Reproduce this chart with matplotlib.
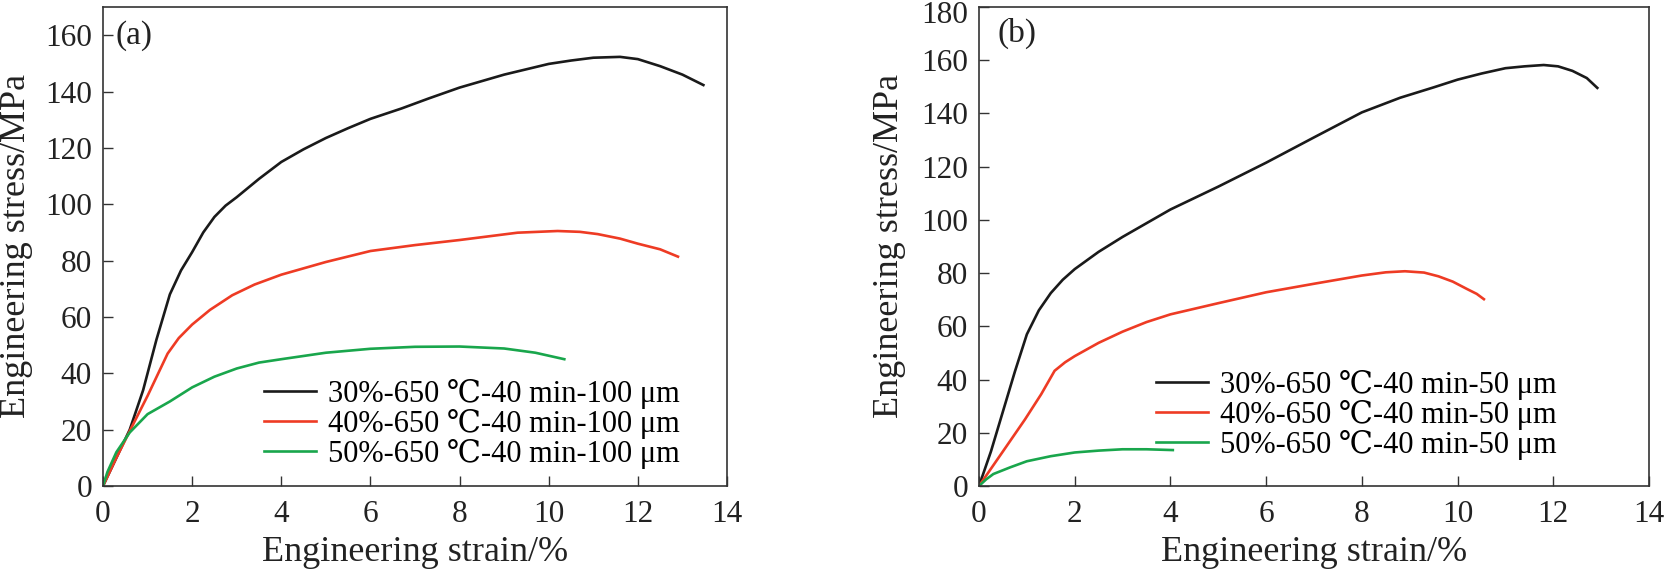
import matplotlib
matplotlib.use("Agg")
import matplotlib.pyplot as plt
from matplotlib.transforms import ScaledTranslation

# ── data ──────────────────────────────────────────────────────────────────────
# panel (a): 100 um
a30_x = [0, 0.3, 0.6, 0.9, 1.2, 1.5, 1.75, 2.0, 2.25, 2.5, 2.75, 3.0, 3.5, 4.0,
         4.5, 5.0, 5.5, 6.0, 6.7, 7.3, 8.0, 9.0, 10.0, 10.5, 11.0, 11.6, 12.0,
         12.5, 13.0, 13.47]
a30_y = [0, 10, 20, 34, 52, 68, 76.5, 83, 90, 95.5, 99.5, 102.5, 109, 115,
         119.5, 123.5, 127, 130.3, 134, 137.5, 141.4, 146, 149.8, 151, 152,
         152.3, 151.5, 149, 146, 142.3]
a40_x = [0, 0.3, 0.6, 1.0, 1.45, 1.7, 2.0, 2.4, 2.9, 3.4, 4.0, 5.0, 6.0, 7.0,
         8.0, 9.3, 10.2, 10.7, 11.1, 11.6, 12.0, 12.5, 12.9]
a40_y = [0, 10, 19.5, 32, 47, 52.5, 57.3, 62.5, 67.7, 71.5, 75, 79.5, 83.4,
         85.5, 87.3, 89.9, 90.5, 90.2, 89.4, 87.8, 86, 84, 81.4]
a50_x = [0, 0.1, 0.3, 0.6, 1.0, 1.5, 2.0, 2.5, 3.0, 3.5, 4.0, 5.0, 6.0, 7.0,
         8.0, 9.0, 9.7, 10.35]
a50_y = [0, 5, 12, 19, 25.5, 30, 35, 38.8, 41.7, 43.8, 45, 47.3, 48.7, 49.4,
         49.5, 48.8, 47.3, 45]

# panel (b): 50 um
b30_x = [0, 0.25, 0.5, 0.75, 1.0, 1.25, 1.5, 1.75, 2.0, 2.5, 3.0, 4.0, 5.0, 6.0,
         7.0, 8.0, 8.8, 9.5, 10.0, 10.5, 11.0, 11.4, 11.8, 12.1, 12.4, 12.7,
         12.92]
b30_y = [0, 13, 28, 43, 57, 66, 72.5, 77.5, 81.5, 88, 93.6, 103.9, 112.5, 121.5,
         131, 140.4, 145.9, 149.8, 152.7, 155, 157, 157.7, 158.2, 157.7, 156,
         153.3, 149.6]
b40_x = [0, 0.5, 0.96, 1.3, 1.58, 1.8, 2.0, 2.5, 3.0, 3.5, 4.0, 5.0, 6.0, 7.0,
         8.0, 8.5, 8.9, 9.3, 9.6, 9.9, 10.2, 10.4, 10.55]
b40_y = [0, 13, 25, 34.5, 43.3, 46.5, 48.8, 53.8, 58, 61.6, 64.5, 68.7, 72.8,
         76, 79.1, 80.3, 80.7, 80.2, 78.8, 76.8, 74, 72.2, 70.2]
b50_x = [0, 0.15, 0.3, 0.65, 1.0, 1.5, 2.0, 2.5, 3.0, 3.5, 4.05]
b50_y = [0, 2.5, 4.5, 7, 9.3, 11.2, 12.6, 13.3, 13.8, 13.8, 13.5]

labels_a = ["30%-650 ℃-40 min-100 μm", "40%-650 ℃-40 min-100 μm",
            "50%-650 ℃-40 min-100 μm"]
labels_b = ["30%-650 ℃-40 min-50 μm", "40%-650 ℃-40 min-50 μm",
            "50%-650 ℃-40 min-50 μm"]

x_ticks = [0, 2, 4, 6, 8, 10, 12, 14]
y_ticks_a = [0, 20, 40, 60, 80, 100, 120, 140, 160]
y_ticks_b = [0, 20, 40, 60, 80, 100, 120, 140, 160, 180]

colors = ["#1a1a1a", "#ee3b24", "#19a64c"]

# ── style ─────────────────────────────────────────────────────────────────────
plt.rcParams["font.family"] = ["Liberation Serif", "DejaVu Serif"]
plt.rcParams["font.size"] = 22
plt.rcParams["axes.edgecolor"] = "#333333"
plt.rcParams["axes.linewidth"] = 1.2

fig = plt.figure(figsize=(16.66, 5.73), dpi=100)
ax_a = fig.add_axes([103 / 1666, 1 - 486 / 573, 624 / 1666, 479 / 573])
ax_b = fig.add_axes([979 / 1666, 1 - 486 / 573, 670 / 1666, 479 / 573])


def style(ax, yticks, ymax, tag, tag_xy, series, labels, leg_anchor, ylab_x):
    for (xs, ys), c, lab in zip(series, colors, labels):
        ax.plot(xs, ys, color=c, lw=1.9, label=lab, solid_joinstyle="round")
    ax.set_xlim(0, 14)
    ax.set_ylim(0, ymax)
    ax.set_xticks(x_ticks)
    ax.set_yticks(yticks)
    ax.tick_params(axis="y", direction="in", length=7, width=1.0,
                   color="#333333", labelcolor="#222222", pad=8,
                   labelsize=22.5)
    ax.tick_params(axis="x", direction="in", length=7, width=1.0,
                   color="#333333", labelcolor="#222222", pad=10,
                   labelsize=22.5)
    ax.set_xlabel("Engineering strain/%", fontsize=26, color="#222222")
    ax.set_ylabel("Engineering stress/MPa", fontsize=26, color="#222222",
                  va="center")
    ax.xaxis.set_label_coords(0.5, -0.105)
    ax.yaxis.set_label_coords(ylab_x, 0.5)
    ax.text(tag_xy[0], tag_xy[1], tag, fontsize=24, color="#222222",
            ha="left", va="center")
    ax.legend(loc="lower left", bbox_to_anchor=leg_anchor, frameon=False,
              fontsize=22, handlelength=1.7, handletextpad=0.4,
              labelspacing=0.0, borderpad=0, borderaxespad=0)


style(ax_a, y_ticks_a, 170, "(a)", (0.27, 160),
      [(a30_x, a30_y), (a40_x, a40_y), (a50_x, a50_y)], labels_a,
      (0.258, 0.036), -0.138)
style(ax_b, y_ticks_b, 180, "(b)", (0.38, 170),
      [(b30_x, b30_y), (b40_x, b40_y), (b50_x, b50_y)], labels_b,
      (0.264, 0.054), -0.133)

# top "180" label sits a little below the top spine, as in the reference
fig.canvas.draw()
top_lab = ax_b.get_yticklabels()[-1]
top_lab.set_transform(top_lab.get_transform()
                      + ScaledTranslation(0, -5 / 100, fig.dpi_scale_trans))

fig.savefig("out.png", dpi=100)
